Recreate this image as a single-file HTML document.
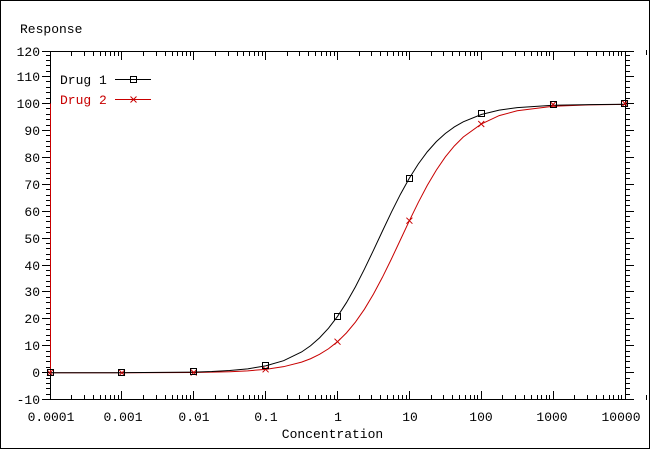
<!DOCTYPE html>
<html>
<head>
<meta charset="utf-8">
<style>
html,body{margin:0;padding:0;background:#fff;}
svg{display:block;}
text{font-family:"Liberation Mono","DejaVu Sans Mono",monospace;font-size:13px;fill:#000;}
</style>
</head>
<body>
<svg width="650" height="450" viewBox="0 0 650 450" xmlns="http://www.w3.org/2000/svg">
<rect x="0" y="0" width="650" height="450" fill="#fff"/>
<rect x="0.5" y="0.5" width="649" height="448" fill="none" stroke="#000" stroke-width="1" shape-rendering="crispEdges"/>

<g stroke="#000" stroke-width="1" fill="none" shape-rendering="crispEdges">
<!-- axes box -->
<path d="M50.5 51.5 H625.5 V399.5 H50.5 Z"/>
<!-- left major ticks -->
<path d="M42 51.5H51M42 76.5H51M42 103.5H51M42 130.5H51M42 157.5H51M42 184.5H51M42 211.5H51M42 238.5H51M42 265.5H51M42 291.5H51M42 318.5H51M42 345.5H51M42 372.5H51M42 399.5H51"/>
<!-- left minor ticks -->
<path d="M46 55.5H51M46 60.5H51M46 65.5H51M46 71.5H51M46 81.5H51M46 87.5H51M46 92.5H51M46 98.5H51M46 108.5H51M46 114.5H51M46 119.5H51M46 125.5H51M46 135.5H51M46 141.5H51M46 146.5H51M46 151.5H51M46 162.5H51M46 168.5H51M46 173.5H51M46 178.5H51M46 189.5H51M46 195.5H51M46 200.5H51M46 205.5H51M46 216.5H51M46 221.5H51M46 227.5H51M46 232.5H51M46 243.5H51M46 248.5H51M46 254.5H51M46 259.5H51M46 270.5H51M46 275.5H51M46 281.5H51M46 286.5H51M46 297.5H51M46 302.5H51M46 308.5H51M46 313.5H51M46 324.5H51M46 329.5H51M46 335.5H51M46 340.5H51M46 351.5H51M46 356.5H51M46 361.5H51M46 367.5H51M46 378.5H51M46 383.5H51M46 388.5H51M46 394.5H51"/>
<!-- right major ticks -->
<path d="M625 51.5H634M625 76.5H634M625 103.5H634M625 130.5H634M625 157.5H634M625 184.5H634M625 211.5H634M625 238.5H634M625 265.5H634M625 291.5H634M625 318.5H634M625 345.5H634M625 372.5H634M625 399.5H634"/>
<!-- right minor ticks -->
<path d="M625 55.5H630M625 60.5H630M625 65.5H630M625 71.5H630M625 81.5H630M625 87.5H630M625 92.5H630M625 98.5H630M625 108.5H630M625 114.5H630M625 119.5H630M625 125.5H630M625 135.5H630M625 141.5H630M625 146.5H630M625 151.5H630M625 162.5H630M625 168.5H630M625 173.5H630M625 178.5H630M625 189.5H630M625 195.5H630M625 200.5H630M625 205.5H630M625 216.5H630M625 221.5H630M625 227.5H630M625 232.5H630M625 243.5H630M625 248.5H630M625 254.5H630M625 259.5H630M625 270.5H630M625 275.5H630M625 281.5H630M625 286.5H630M625 297.5H630M625 302.5H630M625 308.5H630M625 313.5H630M625 324.5H630M625 329.5H630M625 335.5H630M625 340.5H630M625 351.5H630M625 356.5H630M625 361.5H630M625 367.5H630M625 378.5H630M625 383.5H630M625 388.5H630M625 394.5H630"/>
<!-- bottom major ticks (inward) -->
<path d="M121.5 391V400M193.5 391V400M265.5 391V400M337.5 391V400M409.5 391V400M481.5 391V400M553.5 391V400"/>
<!-- bottom minor ticks -->
<path d="M71.5 395V400M84.5 395V400M93.5 395V400M100.5 395V400M105.5 395V400M110.5 395V400M114.5 395V400M118.5 395V400
M143.5 395V400M156.5 395V400M165.5 395V400M172.5 395V400M177.5 395V400M182.5 395V400M186.5 395V400M190.5 395V400
M215.5 395V400M228.5 395V400M237.5 395V400M243.5 395V400M249.5 395V400M254.5 395V400M258.5 395V400M262.5 395V400
M287.5 395V400M299.5 395V400M308.5 395V400M315.5 395V400M321.5 395V400M326.5 395V400M330.5 395V400M334.5 395V400
M359.5 395V400M371.5 395V400M380.5 395V400M387.5 395V400M393.5 395V400M398.5 395V400M402.5 395V400M406.5 395V400
M431.5 395V400M443.5 395V400M452.5 395V400M459.5 395V400M465.5 395V400M470.5 395V400M474.5 395V400M477.5 395V400
M502.5 395V400M515.5 395V400M524.5 395V400M531.5 395V400M537.5 395V400M541.5 395V400M546.5 395V400M549.5 395V400
M574.5 395V400M587.5 395V400M596.5 395V400M603.5 395V400M609.5 395V400M613.5 395V400M618.5 395V400M621.5 395V400"/>
<!-- top major ticks (inward) -->
<path d="M121.5 51V60M193.5 51V60M265.5 51V60M337.5 51V60M409.5 51V60M481.5 51V60M553.5 51V60"/>
<!-- top minor ticks -->
<path d="M71.5 51V56M84.5 51V56M93.5 51V56M100.5 51V56M105.5 51V56M110.5 51V56M114.5 51V56M118.5 51V56
M143.5 51V56M156.5 51V56M165.5 51V56M172.5 51V56M177.5 51V56M182.5 51V56M186.5 51V56M190.5 51V56
M215.5 51V56M228.5 51V56M237.5 51V56M243.5 51V56M249.5 51V56M254.5 51V56M258.5 51V56M262.5 51V56
M287.5 51V56M299.5 51V56M308.5 51V56M315.5 51V56M321.5 51V56M326.5 51V56M330.5 51V56M334.5 51V56
M359.5 51V56M371.5 51V56M380.5 51V56M387.5 51V56M393.5 51V56M398.5 51V56M402.5 51V56M406.5 51V56
M431.5 51V56M443.5 51V56M452.5 51V56M459.5 51V56M465.5 51V56M470.5 51V56M474.5 51V56M477.5 51V56
M502.5 51V56M515.5 51V56M524.5 51V56M531.5 51V56M537.5 51V56M541.5 51V56M546.5 51V56M549.5 51V56
M574.5 51V56M587.5 51V56M596.5 51V56M603.5 51V56M609.5 51V56M613.5 51V56M618.5 51V56M621.5 51V56"/>
<!-- small stray marks at right -->
<path d="M646.5 50V55M646.5 395V400"/>
</g>

<!-- red line along left axis -->
<path d="M50.5 103.5V372.8" stroke="#c80000" stroke-width="1" fill="none" shape-rendering="crispEdges"/>

<!-- Drug 2 curve -->
<polyline fill="none" stroke="#c80000" stroke-width="1" points="50,372.8 121.9,372.76 193.75,372.45 211.72,372.18 229.69,371.69 247.66,370.83 265.63,369.33 283.59,366.68 301.56,362.11 310.55,358.73 319.53,354.36 328.52,348.77 337.5,341.69 346.48,332.86 355.47,322.07 364.45,309.17 373.44,294.15 382.42,277.29 391.41,258.98 400.39,239.89 409.38,220.72 418.36,202.3 427.34,185.28 436.33,170.1 445.31,156.98 454.3,145.99 463.28,136.98 481.25,124.03 499.2,115.6 517.19,110.8 553.13,106.3 589.06,104.9 625,104.4"/>

<!-- Drug 1 curve -->
<polyline fill="none" stroke="#000" stroke-width="1" points="50,372.8 121.9,372.73 193.75,372.09 211.72,371.54 229.69,370.56 247.66,368.85 265.63,365.85 283.59,360.68 301.56,351.98 310.55,345.74 319.53,337.89 328.52,328.18 337.5,316.45 346.48,302.58 355.47,286.71 364.45,269.09 373.44,250.33 382.42,231.11 391.41,212.18 400.39,194.33 409.38,178.1 418.36,163.87 427.34,151.73 436.33,141.64 445.31,133.48 454.3,126.97 463.28,121.84 481.25,114.5 499.2,110.1 517.19,107.6 553.13,105.3 589.06,104.6 625,104.3"/>

<!-- Drug 2 markers (x) -->
<g stroke="#c80000" stroke-width="1" fill="none">
<path d="M47 369.8l6 6m0 -6l-6 6"/>
<path d="M118.9 369.8l6 6m0 -6l-6 6"/>
<path d="M190.75 369.5l6 6m0 -6l-6 6"/>
<path d="M262.6 366.3l6 6m0 -6l-6 6"/>
<path d="M334.5 338.7l6 6m0 -6l-6 6"/>
<path d="M406.4 217.7l6 6m0 -6l-6 6"/>
<path d="M478.25 121l6 6m0 -6l-6 6"/>
<path d="M550.1 101.5l6 6m0 -6l-6 6"/>
<path d="M622 100.5l6 6m0 -6l-6 6"/>
</g>

<!-- Drug 1 markers (squares) -->
<g stroke="#000" stroke-width="1" fill="none" shape-rendering="crispEdges">
<rect x="47.5" y="369.5" width="6" height="6"/>
<rect x="118.5" y="369.5" width="6" height="6"/>
<rect x="190.5" y="368.5" width="6" height="6"/>
<rect x="262.5" y="362.5" width="6" height="6"/>
<rect x="334.5" y="313.5" width="6" height="6"/>
<rect x="406.5" y="175.5" width="6" height="6"/>
<rect x="478.5" y="110.5" width="6" height="6"/>
<rect x="550.5" y="101.5" width="6" height="6"/>
<rect x="621.5" y="100.5" width="6" height="6"/>
</g>

<!-- Y labels -->
<g text-anchor="end">
<text x="40" y="56">120</text>
<text x="40" y="81">110</text>
<text x="40" y="108">100</text>
<text x="40" y="135">90</text>
<text x="40" y="162">80</text>
<text x="40" y="189">70</text>
<text x="40" y="216">60</text>
<text x="40" y="243">50</text>
<text x="40" y="270">40</text>
<text x="40" y="296">30</text>
<text x="40" y="323">20</text>
<text x="40" y="350">10</text>
<text x="40" y="377">0</text>
<text x="40" y="404">-10</text>
</g>

<!-- X labels -->
<g text-anchor="middle">
<text x="51" y="421">0.0001</text>
<text x="123" y="421">0.001</text>
<text x="194" y="421">0.01</text>
<text x="266" y="421">0.1</text>
<text x="338" y="421">1</text>
<text x="410" y="421">10</text>
<text x="481" y="421">100</text>
<text x="552" y="421">1000</text>
<text x="621" y="421">10000</text>
</g>

<text x="20" y="33">Response</text>
<text x="332.5" y="438" text-anchor="middle">Concentration</text>

<!-- Legend -->
<text x="60" y="84">Drug 1</text>
<text x="60" y="104" style="fill:#c80000">Drug 2</text>
<path d="M115 79.5H151" stroke="#000" stroke-width="1" shape-rendering="crispEdges"/>
<rect x="130.5" y="76.5" width="6" height="6" fill="none" stroke="#000" stroke-width="1" shape-rendering="crispEdges"/>
<path d="M115 99.5H151" stroke="#c80000" stroke-width="1" shape-rendering="crispEdges"/>
<path d="M130.5 96.5l6 6m0 -6l-6 6" stroke="#c80000" stroke-width="1" fill="none"/>
</svg>
</body>
</html>
